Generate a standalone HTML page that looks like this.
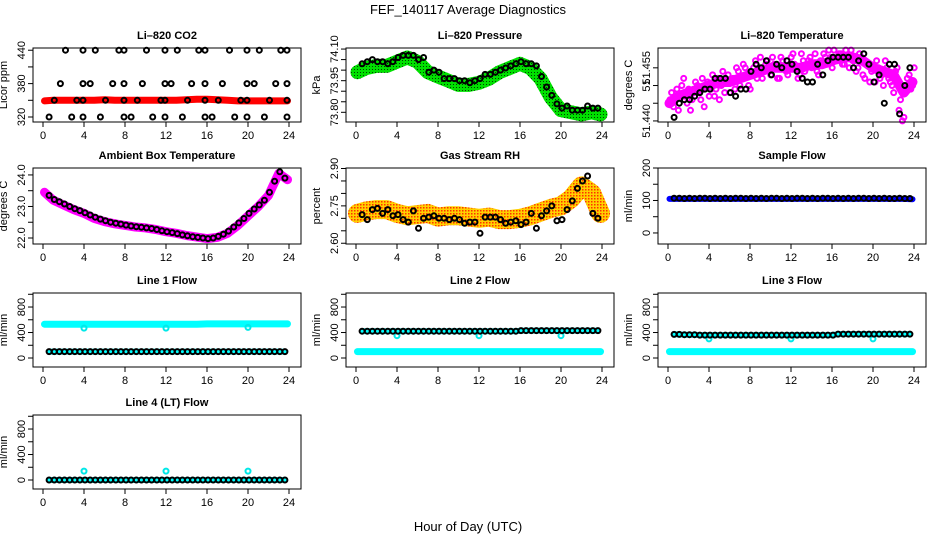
<!DOCTYPE html>
<html><head><meta charset="utf-8"><style>
body{margin:0;background:#fff;}
svg{display:block;font-family:"Liberation Sans",sans-serif;}
</style></head><body>
<svg id="chart" width="936" height="540" xmlns="http://www.w3.org/2000/svg">
<defs>
<pattern id="rhpat" width="3" height="3" patternUnits="userSpaceOnUse"><rect width="3" height="3" fill="#ffd000"/><rect width="1.5" height="1.5" fill="#ff3000"/></pattern>
<pattern id="grpat" width="3" height="3" patternUnits="userSpaceOnUse"><rect width="3" height="3" fill="#00e000"/><rect width="1" height="1" fill="#004000"/></pattern>
</defs>
<text x="468" y="14" font-size="13" text-anchor="middle">FEF_140117  Average Diagnostics</text>
<text x="468" y="531" font-size="13" text-anchor="middle">Hour of Day (UTC)</text>
</svg>
<script>
// ---------- data ----------
var xTicks = [0,4,8,12,16,20,24];
var co2Hours = [2.2,3.9,5.1,7.4,7.9,10.1,11.9,13.1,15.2,15.8,18.2,19.9,21.1,23.2,23.8, 1.7,3.9,4.6,6.8,7.9,9.7,11.9,12.5,14.5,15.8,17.5,19.9,20.6,22.7,23.8, 1.1,3.3,3.9,6.1,7.9,9.2,11.5,11.9,14.1,15.8,17.1,19.3,19.9,22.1,23.8, 0.6,2.8,3.9,5.6,7.9,8.6,10.7,11.9,13.6,15.8,16.5,18.7,19.9,21.6,23.8];
var co2Vals = [440,440,440,440,440,440,440,440,440,440,440,440,440,440,440, 380,380,380,380,380,380,380,380,380,380,380,380,380,380,380, 350,350,350,350,350,350,350,350,350,350,350,350,350,350,350, 320,320,320,320,320,320,320,320,320,320,320,320,320,320,320];
var co2Red = [349,350,350,350,350,350,351,350,350,350,350,350,350,350,351,352,352,351,350,349,349,349,349,349,349];

var pressGreen = [73.99,74.01,74.02,74.02,74.04,74.06,74.04,73.99,73.97,73.95,73.93,73.93,73.94,73.96,73.99,74.01,74.03,74.01,73.96,73.87,73.81,73.80,73.79,73.80,73.79];
var pressBlack = [74.03,74.04,74.05,74.04,74.04,74.03,74.04,74.06,74.07,74.07,74.07,74.05,74.06,73.99,74.0,73.99,73.96,73.96,73.96,73.95,73.95,73.94,73.95,73.96,73.98,73.98,73.99,74.0,74.01,74.02,74.03,74.04,74.03,74.03,74.02,73.97,73.92,73.88,73.84,73.82,73.83,73.81,73.81,73.81,73.83,73.82,73.82];

var tempMagA = [51.446,51.444,51.449,51.447,51.452,51.445,51.443,51.448,51.450,51.446,51.444,51.451,51.449,51.447,51.452,51.450,51.448,51.453,51.451,51.449,51.454,51.452,51.455,51.450,51.453,51.457,51.455,51.452,51.456,51.454,51.458,51.455,51.452,51.457,51.454,51.456,51.459,51.455,51.453,51.457,51.455,51.458,51.456,51.454,51.457,51.459,51.456,51.458,51.460,51.457,51.459,51.456,51.458,51.460,51.457,51.455,51.458,51.452,51.456,51.454,51.451,51.455,51.453,51.457,51.452,51.450,51.454,51.443,51.440,51.449,51.453,51.450];
var tempMagB = [51.448,51.446,51.443,51.450,51.447,51.449,51.446,51.451,51.448,51.452,51.450,51.447,51.453,51.449,51.446,51.454,51.451,51.448,51.452,51.455,51.450,51.456,51.453,51.449,51.455,51.452,51.458,51.454,51.457,51.453,51.456,51.452,51.458,51.455,51.453,51.458,51.456,51.452,51.459,51.454,51.457,51.455,51.459,51.453,51.456,51.458,51.460,51.455,51.457,51.459,51.456,51.460,51.455,51.457,51.454,51.459,51.453,51.456,51.451,51.455,51.457,51.452,51.450,51.455,51.451,51.448,51.455,51.446,51.441,51.452,51.449,51.455];
var tempMagBand = [51.445,51.447,51.448,51.449,51.450,51.451,51.451,51.452,51.453,51.454,51.455,51.455,51.455,51.455,51.456,51.456,51.457,51.458,51.458,51.457,51.455,51.454,51.453,51.448,51.451];
var tempBlack = [51.441,51.445,51.446,51.446,51.447,51.448,51.449,51.449,51.452,51.452,51.452,51.448,51.447,51.449,51.449,51.454,51.456,51.455,51.457,51.453,51.456,51.455,51.457,51.456,51.454,51.452,51.451,51.451,51.456,51.453,51.457,51.458,51.458,51.458,51.458,51.455,51.457,51.459,51.456,51.451,51.453,51.445,51.456,51.456,51.442,51.450,51.455];

var ambBlack = [23.35,23.22,23.15,23.08,23.0,22.93,22.87,22.8,22.73,22.66,22.6,22.55,22.5,22.47,22.44,22.41,22.38,22.36,22.34,22.32,22.3,22.27,22.23,22.2,22.17,22.14,22.1,22.07,22.04,22.02,22.0,21.98,22.0,22.05,22.12,22.22,22.35,22.48,22.62,22.78,22.92,23.05,23.2,23.45,23.8,24.1,23.9];
var ambMag = [23.45,23.2,23.05,22.9,22.78,22.62,22.52,22.45,22.4,22.35,22.32,22.27,22.2,22.15,22.08,22.03,21.98,22.02,22.15,22.4,22.7,23.0,23.35,24.05,23.85];

var rhBand = [2.72,2.73,2.735,2.735,2.72,2.71,2.715,2.72,2.705,2.71,2.71,2.705,2.70,2.705,2.695,2.695,2.70,2.71,2.725,2.74,2.75,2.78,2.83,2.80,2.72];
var rhBlack = [2.715,2.695,2.735,2.74,2.72,2.735,2.71,2.715,2.695,2.685,2.73,2.66,2.70,2.705,2.71,2.70,2.70,2.695,2.70,2.695,2.68,2.685,2.685,2.64,2.705,2.705,2.705,2.695,2.68,2.685,2.69,2.675,2.685,2.72,2.66,2.71,2.73,2.75,2.69,2.695,2.735,2.77,2.82,2.85,2.87,2.72,2.70];

var sampleBand = [105,105,105,105,105,105,105,105,105,105,105,105,105,105,105,105,105,105,105,105,105,105,105,105,104];
var sampleBlack = [107,107,106,107,106,107,107,106,107,106,107,106,107,107,106,107,106,107,106,107,107,106,107,106,107,107,106,107,106,107,107,106,107,106,107,106,107,107,106,107,106,107,106,106,107,106,106];

var l1Cyan = [530,530,530,530,530,530,530,530,530,530,530,530,530,530,530,530,535,535,535,535,535,535,535,535,535];
var l1Black = [100,100,100,100,100,100,100,100,100,100,100,100,100,100,100,100,100,100,100,100,100,100,100,100,100,100,100,100,100,100,100,100,100,100,100,100,100,100,100,100,100,100,100,100,100,100,100];
var l1OutHours = [4,12,20];
var l1OutVals = [470,470,480];

var l2CyanLow = [100,100,100,100,100,100,100,100,100,100,100,100,100,100,100,100,100,100,100,100,100,100,100,100,100];
var l2Black = [420,420,420,420,420,420,420,420,420,420,420,420,420,420,420,420,420,420,420,420,420,420,420,420,420,420,420,420,420,420,420,430,430,430,430,430,430,430,430,430,430,430,430,430,430,430,430];
var l2OutHours = [4,12,20];
var l2OutVals = [350,350,350];

var l3CyanLow = [100,100,100,100,100,100,100,100,100,100,100,100,100,100,100,100,100,100,100,100,100,100,100,100,100];
var l3Black = [370,370,365,365,365,360,360,360,360,360,360,360,360,360,360,360,360,360,360,360,360,360,360,360,360,360,360,360,360,360,360,360,375,375,375,375,375,375,375,375,375,375,375,375,375,375,375];
var l3OutHours = [4,12,20];
var l3OutVals = [300,300,300];

var l4Black = [0,0,0,0,0,0,0,0,0,0,0,0,0,0,0,0,0,0,0,0,0,0,0,0,0,0,0,0,0,0,0,0,0,0,0,0,0,0,0,0,0,0,0,0,0,0,0];
var l4OutHours = [4,12,20];
var l4OutVals = [140,140,140];

// ---------- drawing ----------
var svg = document.getElementById('chart');
var NS = 'http://www.w3.org/2000/svg';
var colLeft = [33, 346, 658];
var rowTop = [48, 168, 293, 415];
var rowH = [74, 76, 74, 74];
var W = 268;
var halfT = []; for (var i = 0; i < 47; i++) halfT.push(0.6 + 0.5 * i);
var hourT = []; for (var i = 0; i < 25; i++) hourT.push(i === 0 ? 0.15 : (i === 24 ? 23.85 : i));
var thirdT = []; for (var i = 0; i < 72; i++) thirdT.push(0.2 + i / 3);
var thirdT2 = []; for (var i = 0; i < 72; i++) thirdT2.push(0.35 + i / 3);

function mk(tag, attrs, parent) {
  var e = document.createElementNS(NS, tag);
  for (var k in attrs) e.setAttribute(k, attrs[k]);
  (parent || svg).appendChild(e);
  return e;
}

function panel(name, c, r, title, ylab, ylim, yticks, ylabels) {
  var left = colLeft[c], top = rowTop[r], h = rowH[r];
  var g = mk('g', {});
  
  
  var P = {g: g, left: left, top: top, h: h,
    x: function (v) { return left + 10 + v * 246 / 24; },
    y: function (v) { return top + h - (v - ylim[0]) / (ylim[1] - ylim[0]) * h; }};
  var t = mk('text', {x: left + W / 2, y: top - 9, 'font-size': 11, 'font-weight': 'bold', 'text-anchor': 'middle'}, g);
  t.textContent = title;
  
  
  var yl = mk('text', {x: 0, y: 0, 'font-size': 11, 'text-anchor': 'middle', transform: 'translate(' + (left - 26) + ',' + (top + h / 2) + ') rotate(-90)'}, g);
  yl.textContent = ylab;
  
  
  var xa = mk('g', {}, g);
  
  
  xTicks.forEach(function (v) {
    var px = P.x(v);
    mk('line', {x1: px, x2: px, y1: top + h, y2: top + h + 5, stroke: '#000'}, xa);
    var tl = mk('text', {x: px, y: top + h + 17, 'font-size': 11, 'text-anchor': 'middle'}, xa);
    tl.textContent = String(v);
  });
  var ya = mk('g', {}, g);
  
  
  yticks.forEach(function (v, i) {
    var py = P.y(v);
    mk('line', {x1: left - 5, x2: left, y1: py, y2: py, stroke: '#000'}, ya);
    if (ylabels[i]) {
      var tl = mk('text', {x: 0, y: 0, 'font-size': 11, 'text-anchor': 'middle', transform: 'translate(' + (left - 8) + ',' + py + ') rotate(-90)'}, ya);
      tl.textContent = ylabels[i];
    }
  });
  P.plot = mk('g', {}, g);
  
  
  var clip = mk('clipPath', {id: 'clip' + name}, g);
  mk('rect', {x: left, y: top - 3, width: W, height: h + 6}, clip);
  P.plot.setAttribute('clip-path', 'url(#clip' + name + ')');
  var box = mk('rect', {x: left, y: top, width: W, height: h, fill: 'none', stroke: '#000'}, g);
  
  
  return P;
}

function band(P, ts, vs, color, width, name) {
  var d = ts.map(function (t, i) { return (i ? 'L' : 'M') + P.x(t).toFixed(1) + ' ' + P.y(vs[i]).toFixed(1); }).join(' ');
  var p = mk('path', {d: d, fill: 'none', stroke: color, 'stroke-width': width, 'stroke-linejoin': 'round', 'stroke-linecap': 'round'}, P.plot);
  
  
}
function points(P, ts, vs, color, name) {
  var g = mk('g', {}, P.plot);
  
  
  ts.forEach(function (t, i) {
    mk('circle', {cx: P.x(t).toFixed(1), cy: P.y(vs[i]).toFixed(1), r: 2.5, fill: 'none', stroke: color, 'stroke-width': 2}, g);
  });
}

var P;
P = panel('co2', 0, 0, 'Li\u2013820 CO2', 'Licor ppm', [311, 444], [320, 350, 380, 410, 440], ['320', '', '380', '', '440']);
band(P, hourT, co2Red, '#ff0000', 7, 'co2-red-series');
points(P, co2Hours, co2Vals, '#000', 'co2-black-series');

P = panel('pressure', 1, 0, 'Li\u2013820 Pressure', 'kPa', [73.754, 74.105], [73.80, 73.85, 73.90, 73.95, 74.00, 74.05, 74.10], ['73.80', '', '', '73.95', '', '', '74.10']);
band(P, hourT, pressGreen, 'url(#grpat)', 14, 'pressure-green-series');
points(P, halfT, pressBlack, '#000', 'pressure-black-series');

P = panel('li820-temp', 2, 0, 'Li\u2013820 Temperature', 'degrees C', [51.4397, 51.4606], [51.440, 51.445, 51.450, 51.455], ['51.440', '', '51', '51.455']);
band(P, hourT, tempMagBand, '#ff00ff', 10, 'li820-temp-magenta-band');
points(P, thirdT, tempMagA, '#ff00ff', 'li820-temp-magenta-series');
points(P, thirdT2, tempMagB, '#ff00ff', 'li820-temp-magenta-series-b');
points(P, halfT, tempBlack, '#000', 'li820-temp-black-series');

P = panel('ambient', 0, 1, 'Ambient Box Temperature', 'degrees C', [21.81, 24.22], [22.0, 22.5, 23.0, 23.5, 24.0], ['22.0', '', '23.0', '', '24.0']);
band(P, hourT, ambMag, '#ff00ff', 9, 'ambient-magenta-series');
points(P, halfT, ambBlack, '#000', 'ambient-black-series');

P = panel('rh', 1, 1, 'Gas Stream RH', 'percent', [2.597, 2.902], [2.60, 2.65, 2.70, 2.75, 2.80, 2.85, 2.90], ['2.60', '', '', '2.75', '', '', '2.90']);
band(P, hourT, rhBand, 'url(#rhpat)', 19, 'rh-orange-series');
points(P, halfT, rhBlack, '#000', 'rh-black-series');

P = panel('sample-flow', 2, 1, 'Sample Flow', 'ml/min', [-34, 200], [0, 50, 100, 150, 200], ['0', '', '100', '', '200']);
band(P, hourT, sampleBand, '#0000ff', 6, 'sample-flow-blue-series');
points(P, halfT, sampleBlack, '#000', 'sample-flow-black-series');

var fTicks = [0, 200, 400, 600, 800, 1000], fLabels = ['0', '', '400', '', '800', ''];
var fLim = [-141, 1020];

P = panel('line1', 0, 2, 'Line 1 Flow', 'ml/min', fLim, fTicks, fLabels);
band(P, hourT, l1Cyan, '#00ffff', 7, 'line1-cyan-series');
band(P, halfT, l1Black, '#00ffff', 6, 'line1-cyan-low-series');
points(P, l1OutHours, l1OutVals, '#00e8e8', 'line1-cyan-outliers');
points(P, halfT, l1Black, '#000', 'line1-black-series');

P = panel('line2', 1, 2, 'Line 2 Flow', 'ml/min', fLim, fTicks, fLabels);
band(P, hourT, l2CyanLow, '#00ffff', 7, 'line2-cyan-low-series');
band(P, halfT, l2Black, '#00ffff', 6, 'line2-cyan-high-series');
points(P, l2OutHours, l2OutVals, '#00e8e8', 'line2-cyan-outliers');
points(P, halfT, l2Black, '#000', 'line2-black-series');

P = panel('line3', 2, 2, 'Line 3 Flow', 'ml/min', fLim, fTicks, fLabels);
band(P, hourT, l3CyanLow, '#00ffff', 7, 'line3-cyan-low-series');
band(P, halfT, l3Black, '#00ffff', 6, 'line3-cyan-high-series');
points(P, l3OutHours, l3OutVals, '#00e8e8', 'line3-cyan-outliers');
points(P, halfT, l3Black, '#000', 'line3-black-series');

P = panel('line4', 0, 3, 'Line 4 (LT) Flow', 'ml/min', fLim, fTicks, fLabels);
band(P, halfT, l4Black, '#00ffff', 6, 'line4-cyan-series');
points(P, l4OutHours, l4OutVals, '#00e8e8', 'line4-cyan-outliers');
points(P, halfT, l4Black, '#000', 'line4-black-series');
</script>
</body></html>
